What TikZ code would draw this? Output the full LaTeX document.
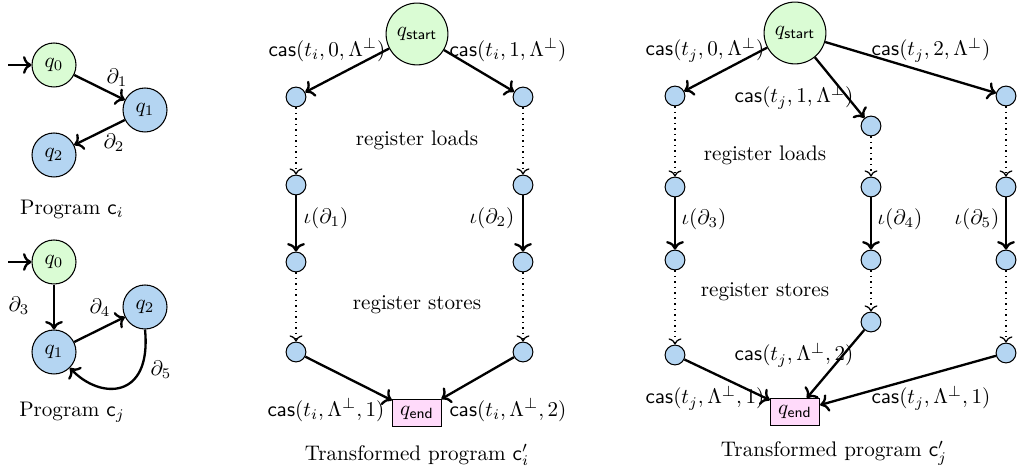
\documentclass[tikz,border=0pt]{standalone}
\usetikzlibrary{arrows.meta}
\definecolor{nodeblue}{RGB}{180,213,242}
\definecolor{nodegreen}{RGB}{218,252,212}
\definecolor{nodepink}{RGB}{255,218,250}
\begin{document}
\begin{tikzpicture}[x=0.01666cm,y=-0.01666cm,
  st/.style={circle,draw,line width=0.5pt,minimum size=0.733cm,inner sep=0pt},
  bst/.style={st,fill=nodeblue},
  gst/.style={st,fill=nodegreen},
  startst/.style={circle,draw,line width=0.5pt,fill=nodegreen,minimum size=1.03cm,inner sep=0pt},
  sm/.style={circle,draw,line width=0.5pt,fill=nodeblue,minimum size=0.33cm,inner sep=0pt},
  endst/.style={rectangle,draw,line width=0.5pt,fill=nodepink,minimum width=0.82cm,minimum height=0.45cm,inner sep=1pt},
  edge/.style={->,line width=1.1pt},
  dots/.style={->,dotted,line width=0.6pt},
  lbl/.style={inner sep=1pt}
]
\useasboundingbox (0,0) rectangle (1017,472);

% ---------- Program c_i ----------
\node[gst] (ci0) at (54,65) {$q_0$};
\node[bst] (ci1) at (145,110) {$q_1$};
\node[bst] (ci2) at (54,155) {$q_2$};
\coordinate (ciin) at (8,65);
\draw[edge] (ciin) -- (ci0);
\draw[edge] (ci0) -- (ci1);
\draw[edge] (ci1) -- (ci2);
\node[lbl] (lci1) at (117,78) {$\partial_1$};
\node[lbl] (lci2) at (114,143) {$\partial_2$};
\node (capci) at (72,209) {Program $\mathsf{c}_i$};

% ---------- Program c_j ----------
\node[gst] (cj0) at (54,262) {$q_0$};
\node[bst] (cj1) at (54,352) {$q_1$};
\node[bst] (cj2) at (145,307) {$q_2$};
\coordinate (cjin) at (8,262);
\draw[edge] (cjin) -- (cj0);
\draw[edge] (cj0) -- (cj1);
\draw[edge] (cj1) -- (cj2);
\draw[edge] (cj2.south) .. controls (152,400) and (100,400) .. (cj1.south east);
\node[lbl] (lcj3) at (19,306) {$\partial_3$};
\node[lbl] (lcj4) at (100,308) {$\partial_4$};
\node[lbl] (lcj5) at (161,370) {$\partial_5$};
\node (capcj) at (72,412) {Program $\mathsf{c}_j$};

% ---------- Transformed program c_i' ----------
\node[startst] (ms) at (417,34) {$q_{\mathsf{start}}$};
\node[sm] (a1) at (296,97) {};
\node[sm] (a2) at (296,185) {};
\node[sm] (a3) at (296,262) {};
\node[sm] (a4) at (296,352) {};
\node[sm] (b1) at (523,97) {};
\node[sm] (b2) at (523,185) {};
\node[sm] (b3) at (523,262) {};
\node[sm] (b4) at (523,352) {};
\node[endst] (me) at (417,413) {$q_{\mathsf{end}}$};
\draw[edge] (ms) -- (a1);
\draw[edge] (ms) -- (b1);
\draw[dots] (a1) -- (a2);
\draw[dots] (b1) -- (b2);
\draw[edge] (a2) -- (a3);
\draw[edge] (b2) -- (b3);
\draw[dots] (a3) -- (a4);
\draw[dots] (b3) -- (b4);
\draw[edge] (a4) -- (me);
\draw[edge] (b4) -- (me);
\node[lbl] (lm1) at (327,50) {$\mathsf{cas}(t_i,0,\Lambda^{\perp})$};
\node[lbl] (lm2) at (508,50) {$\mathsf{cas}(t_i,1,\Lambda^{\perp})$};
\node (mload) at (417,140) {register loads};
\node (mstore) at (417,305) {register stores};
\node[lbl] (lm3) at (326,218) {$\iota(\partial_1)$};
\node[lbl] (lm4) at (492,218) {$\iota(\partial_2)$};
\node[lbl] (lm5) at (326,410) {$\mathsf{cas}(t_i,\Lambda^{\perp},1)$};
\node[lbl] (lm6) at (508,410) {$\mathsf{cas}(t_i,\Lambda^{\perp},2)$};
\node (capm) at (417,455) {Transformed program $\mathsf{c}'_i$};

% ---------- Transformed program c_j' ----------
\node[startst] (rs) at (795,33) {$q_{\mathsf{start}}$};
\node[sm] (c1) at (675,96) {};
\node[sm] (c2) at (675,187) {};
\node[sm] (c3) at (675,260) {};
\node[sm] (c4) at (675,355) {};
\node[sm] (d1) at (871,126) {};
\node[sm] (d2) at (871,187) {};
\node[sm] (d3) at (871,260) {};
\node[sm] (d4) at (871,322) {};
\node[sm] (e1) at (1006,96) {};
\node[sm] (e2) at (1006,187) {};
\node[sm] (e3) at (1006,260) {};
\node[sm] (e4) at (1006,353) {};
\node[endst] (re) at (795,412) {$q_{\mathsf{end}}$};
\draw[edge] (rs) -- (c1);
\draw[edge] (rs) -- (d1);
\draw[edge] (rs) -- (e1);
\draw[dots] (c1) -- (c2);
\draw[dots] (d1) -- (d2);
\draw[dots] (e1) -- (e2);
\draw[edge] (c2) -- (c3);
\draw[edge] (d2) -- (d3);
\draw[edge] (e2) -- (e3);
\draw[dots] (c3) -- (c4);
\draw[dots] (d3) -- (d4);
\draw[dots] (e3) -- (e4);
\draw[edge] (c4) -- (re);
\draw[edge] (d4) -- (re);
\draw[edge] (e4) -- (re);
\node[lbl] (lr1) at (705,50) {$\mathsf{cas}(t_j,0,\Lambda^{\perp})$};
\node[lbl] (lr2) at (794,97) {$\mathsf{cas}(t_j,1,\Lambda^{\perp})$};
\node[lbl] (lr3) at (931,50) {$\mathsf{cas}(t_j,2,\Lambda^{\perp})$};
\node (rload) at (765,155) {register loads};
\node (rstore) at (765,292) {register stores};
\node[lbl] (lr4) at (704,219) {$\iota(\partial_3)$};
\node[lbl] (lr5) at (900,219) {$\iota(\partial_4)$};
\node[lbl] (lr6) at (977,219) {$\iota(\partial_5)$};
\node[lbl] (lr7) at (794,355) {$\mathsf{cas}(t_j,\Lambda^{\perp},2)$};
\node[lbl] (lr8) at (705,398) {$\mathsf{cas}(t_j,\Lambda^{\perp},1)$};
\node[lbl] (lr9) at (931,398) {$\mathsf{cas}(t_j,\Lambda^{\perp},1)$};
\node (capr) at (834,453) {Transformed program $\mathsf{c}'_j$};
\end{tikzpicture}
\end{document}
